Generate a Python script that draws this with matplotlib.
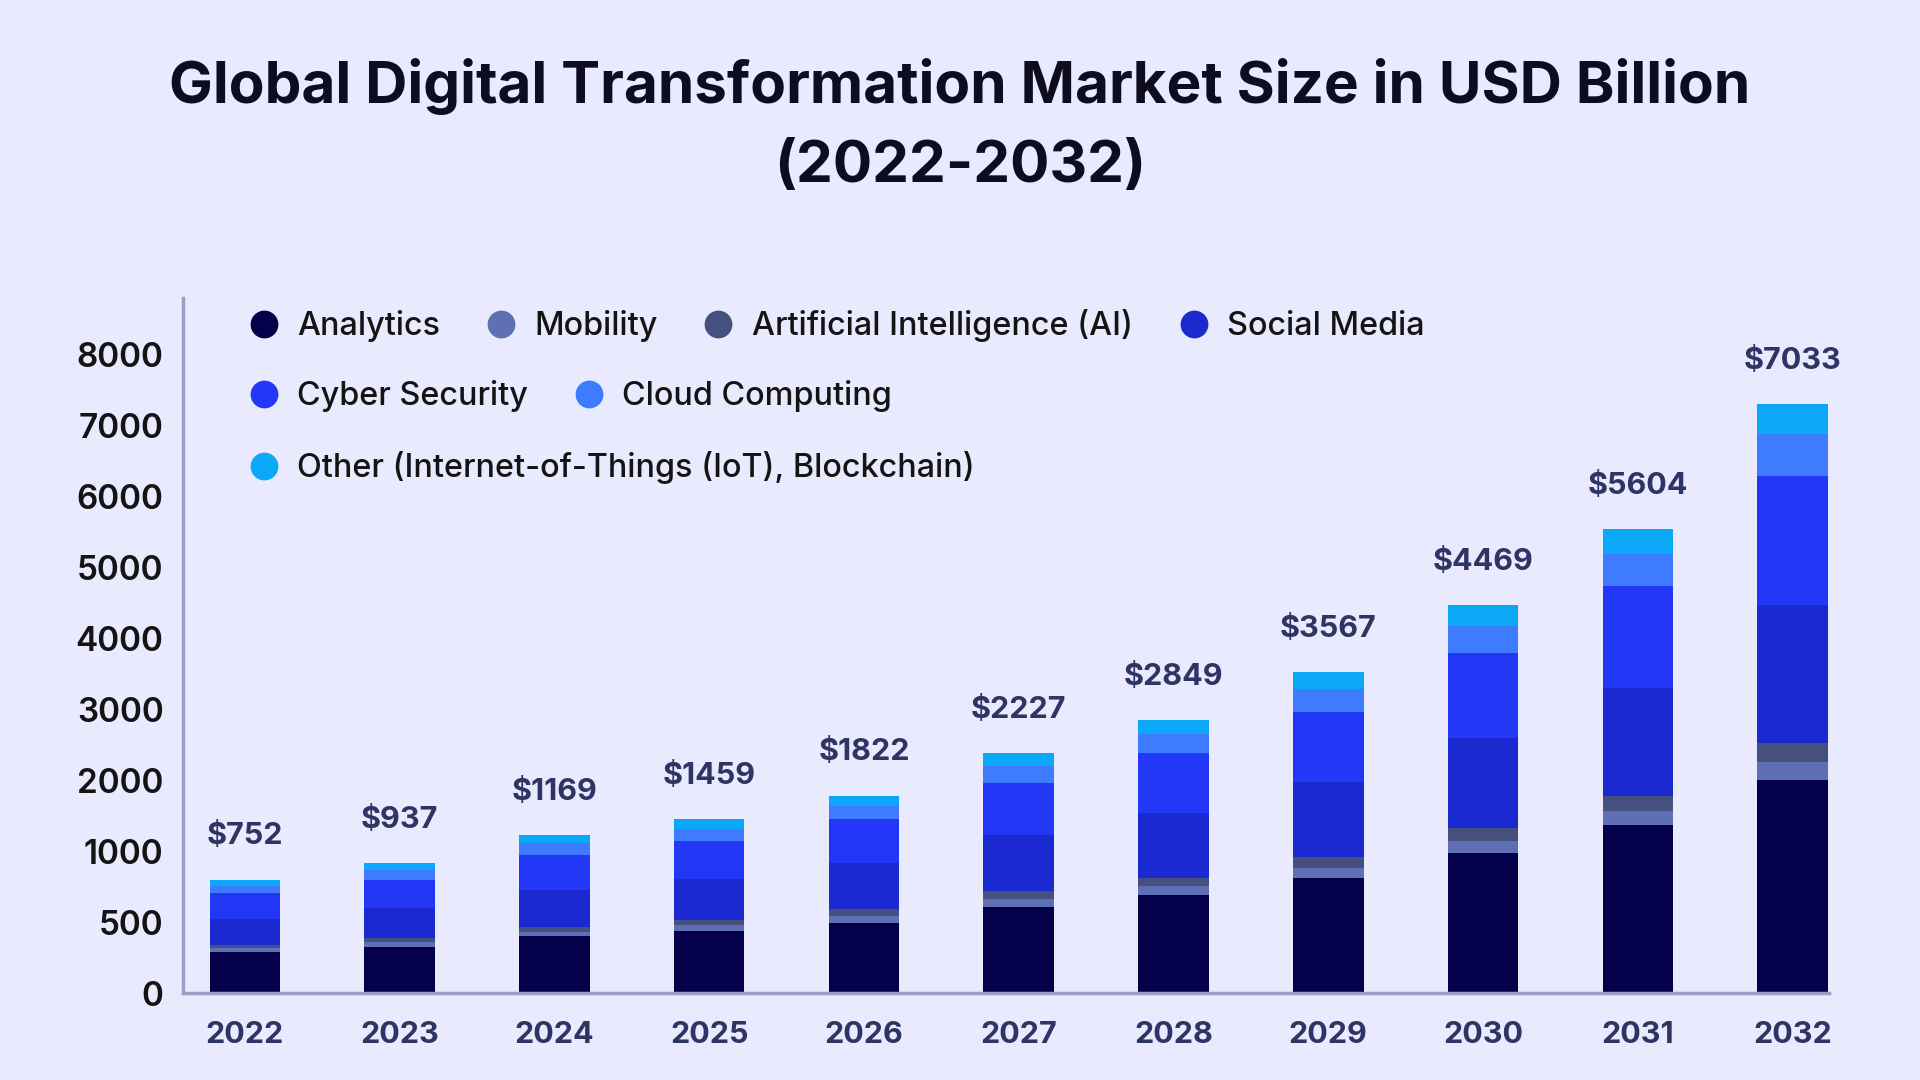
import numpy as np
import matplotlib
matplotlib.use("Agg")
import matplotlib.pyplot as plt
from matplotlib.lines import Line2D

# ---------------- data ----------------
years = ["2022", "2023", "2024", "2025", "2026", "2027", "2028", "2029", "2030", "2031", "2032"]
total_labels = ["$752", "$937", "$1169", "$1459", "$1822", "$2227", "$2849", "$3567", "$4469", "$5604", "$7033"]

analytics    = [288, 327, 401, 439, 498, 608, 692, 815, 986, 1366, 2000]
mobility     = [29, 35, 32, 40, 48, 55, 64, 71, 160, 202, 266]
ai           = [26, 26, 36, 38, 46, 55, 59, 75, 182, 212, 265]
social_media = [184, 213, 262, 289, 326, 506, 720, 1021, 1273, 1527, 1934]
cyber        = [178, 201, 246, 340, 532, 745, 847, 988, 1197, 1430, 1817]
cloud        = [51, 65, 137, 175, 189, 238, 272, 324, 382, 459, 591]
other        = [46, 48, 110, 129, 148, 175, 194, 233, 285, 342, 424]

series_names = ["Analytics", "Mobility", "Artificial Intelligence (AI)", "Social Media",
                "Cyber Security", "Cloud Computing", "Other (Internet-of-Things (IoT), Blockchain)"]
series_vals = [analytics, mobility, ai, social_media, cyber, cloud, other]
colors = ["#05004a", "#5f6fb5", "#46507f", "#1b2ad0", "#2338f7", "#3e7bff", "#0aa8f7"]

y_ticks = [0, 500, 1000, 2000, 3000, 4000, 5000, 6000, 7000, 8000]

# ---------------- style ----------------
BG = "#e9eafd"
FONT = "Inter"
plt.rcParams["font.family"] = [FONT, "DejaVu Sans"]

fig = plt.figure(figsize=(19.2, 10.8), dpi=100, facecolor=BG)
ax = fig.add_axes([0.0953, 0.0802, 0.8573, 0.6442])
ax.set_facecolor(BG)

# piecewise-linear axis: ticks equally spaced
tick_pos = np.arange(len(y_ticks), dtype=float)
tv = np.array(y_ticks, dtype=float)
ext_v = np.append(tv, 20000.0)
ext_p = np.append(tick_pos, tick_pos[-1] + 12.0)

def fwd(v):
    v = np.asarray(v, dtype=float)
    return np.interp(v, ext_v, ext_p, left=0.0)

def inv(p):
    p = np.asarray(p, dtype=float)
    return np.interp(p, ext_p, ext_v, left=0.0)

ax.set_yscale("function", functions=(fwd, inv))

x = np.arange(len(years))
bottom = np.zeros(len(years))
for name, vals, col in zip(series_names, series_vals, colors):
    vals = np.array(vals, dtype=float)
    ax.bar(x, vals, bottom=bottom, width=0.456, color=col, linewidth=0, label=name)
    bottom = bottom + vals

for xi, top, lab in zip(x, bottom, total_labels):
    ax.annotate(lab, (xi, top), xytext=(0, 31), textcoords="offset points",
                ha="center", va="center", fontsize=22, fontweight="bold", color="#2e3463")

ax.set_ylim(0, 8800)
ax.set_xlim(-0.40, 10.235)
ax.set_yticks(y_ticks)
ax.set_yticklabels([str(t) for t in y_ticks])
ax.set_xticks(x)
ax.set_xticklabels(years)
ax.tick_params(axis="y", length=0, pad=14, labelsize=24, labelcolor="#141414")
ax.tick_params(axis="x", length=0, pad=20, labelsize=22, labelcolor="#2e3463")
for lab in ax.get_yticklabels():
    lab.set_fontweight("semibold")
for lab in ax.get_xticklabels():
    lab.set_fontweight("bold")
ax.yaxis.set_minor_locator(matplotlib.ticker.NullLocator())

for s in ["top", "right"]:
    ax.spines[s].set_visible(False)
for s in ["left", "bottom"]:
    ax.spines[s].set_color("#9d9fc8")
    ax.spines[s].set_linewidth(2.5)

# title
fig.text(0.5, 0.920, "Global Digital Transformation Market Size in USD Billion",
         ha="center", va="center", fontsize=42.1, fontweight="bold", color="#0d0d1f")
fig.text(0.5, 0.845, "(2022-2032)",
         ha="center", va="center", fontsize=42.1, fontweight="bold", color="#0d0d1f")

# flow legend: three rows
def handle(c):
    return Line2D([], [], marker="o", ls="", ms=20, color=c, markeredgewidth=0)

rows = [[0, 1, 2, 3], [4, 5], [6]]
row_y = [1 - 325.5 / 1080, 1 - 396.5 / 1080, 1 - 467.5 / 1080]
for r, yy in zip(rows, row_y):
    leg = fig.legend([handle(colors[i]) for i in r], [series_names[i] for i in r],
                     loc="center left", bbox_to_anchor=(247.5 / 1920, yy),
                     bbox_transform=fig.transFigure, ncol=len(r), frameon=False,
                     fontsize=23.3, handlelength=1.0, handletextpad=0.54,
                     columnspacing=1.37, borderpad=0, borderaxespad=0)
    for t in leg.get_texts():
        t.set_color("#141414")
        t.set_fontweight("medium")

fig.savefig("out.png", dpi=100, facecolor=BG)
